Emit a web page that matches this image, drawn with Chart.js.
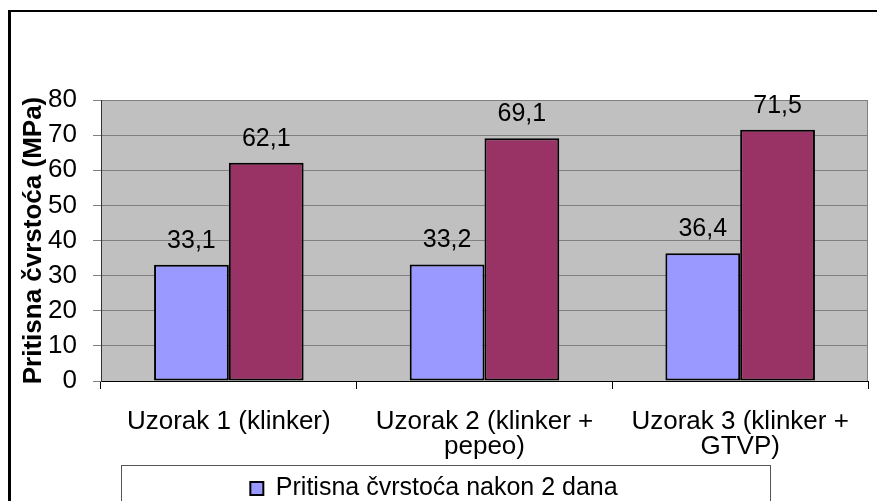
<!DOCTYPE html>
<html>
<head>
<meta charset="utf-8">
<script src="https://cdn.jsdelivr.net/npm/chart.js@4"></script>
<style>
  html, body { margin: 0; padding: 0; overflow: hidden; background: #fff; }
  #wrap { width: 877px; height: 511px; position: relative; }
</style>
</head>
<body>
<div id="wrap"><canvas id="strengthChart"></canvas></div>
<script>
// -- data --
const categories = ['Uzorak 1 (klinker)', ['Uzorak 2 (klinker +', 'pepeo)'], ['Uzorak 3 (klinker +', 'GTVP)']];
const seriesNames = ['Pritisna čvrstoća nakon 2 dana', 'Pritisna čvrstoća (serija 2)'];
const strength2d = [33.1, 33.2, 36.4];
const strengthLater = [62.1, 69.1, 71.5];
const yMin = 0, yMax = 80, yStep = 10;
const yTitle = 'Pritisna čvrstoća (MPa)';

const FONT = '"Liberation Sans", Arial, sans-serif';
Chart.defaults.font.family = FONT;
Chart.defaults.color = '#000';

// white page, grey plot area, outer frame and legend frame
const plotBackground = {
  id: 'plotBackground',
  beforeDraw(chart) {
    const { ctx, chartArea: a, width, height } = chart;
    ctx.save();
    ctx.fillStyle = '#fff';
    ctx.fillRect(0, 0, width, height);
    ctx.fillStyle = '#C0C0C0';
    ctx.fillRect(a.left, a.top, a.right - a.left, a.bottom - a.top);
    ctx.strokeStyle = '#808080';
    ctx.lineWidth = 1;
    ctx.strokeRect(a.left + 0.5, a.top + 0.5, a.right - a.left - 1, a.bottom - a.top);
    ctx.fillStyle = '#000';
    ctx.fillRect(8, 10, width - 8, 2);
    ctx.fillRect(8, 10, 3, height - 10);
    const lg = chart.legend;
    ctx.strokeStyle = '#555';
    ctx.strokeRect(121.5, lg.top - 0.5, 649, height);
    ctx.restore();
  }
};

// value labels over the bars
const valueLabels = {
  id: 'valueLabels',
  afterDatasetsDraw(chart) {
    const ctx = chart.ctx;
    ctx.save();
    ctx.font = '25px ' + FONT;
    ctx.fillStyle = '#000';
    ctx.textAlign = 'center';
    ctx.textBaseline = 'alphabetic';
    chart.data.datasets.forEach((ds, i) => {
      chart.getDatasetMeta(i).data.forEach((bar, j) => {
        ctx.fillText(ds.data[j].toFixed(1).replace('.', ','), bar.x, bar.y - 17);
      });
    });
    ctx.restore();
  }
};

new Chart(document.getElementById('strengthChart').getContext('2d'), {
  type: 'bar',
  data: {
    labels: categories,
    datasets: [{
      label: seriesNames[0],
      data: strength2d,
      backgroundColor: '#9999FF',
      borderColor: '#000',
      borderWidth: 2,
      borderSkipped: false
    }, {
      label: seriesNames[1],
      data: strengthLater,
      backgroundColor: '#993366',
      borderColor: '#000',
      borderWidth: 2,
      borderSkipped: false
    }]
  },
  options: {
    responsive: true,
    maintainAspectRatio: false,
    animation: false,
    layout: { padding: { top: 100, right: 9, left: 0, bottom: 0 } },
    datasets: { bar: { categoryPercentage: 0.585, barPercentage: 1 } },
    scales: {
      x: {
        grid: { drawOnChartArea: false, tickLength: 8, color: '#000', offset: true },
        border: { color: '#000', width: 1 },
        ticks: { color: '#000', font: { size: 26, lineHeight: 0.97 }, padding: 20, maxRotation: 0, autoSkip: false },
        afterFit: s => { s.height = 85; }
      },
      y: {
        min: yMin,
        max: yMax,
        ticks: { stepSize: yStep, color: '#000', font: { size: 26 }, padding: 16 },
        grid: { color: '#808080', tickLength: 8, tickColor: '#808080' },
        border: { color: '#333', width: 1 },
        title: { display: true, text: yTitle, color: '#000', font: { size: 26, weight: 'bold' }, padding: { top: 18, bottom: 0 } },
        afterFit: s => { s.width = 101; }
      }
    },
    plugins: {
      legend: {
        position: 'bottom',
        labels: {
          filter: item => item.datasetIndex === 0,
          font: { size: 25, lineHeight: 1 },
          color: '#000',
          boxWidth: 13,
          boxHeight: 13,
          padding: 10
        }
      },
      tooltip: { enabled: false }
    }
  },
  plugins: [plotBackground, valueLabels]
});
</script>
</body>
</html>
